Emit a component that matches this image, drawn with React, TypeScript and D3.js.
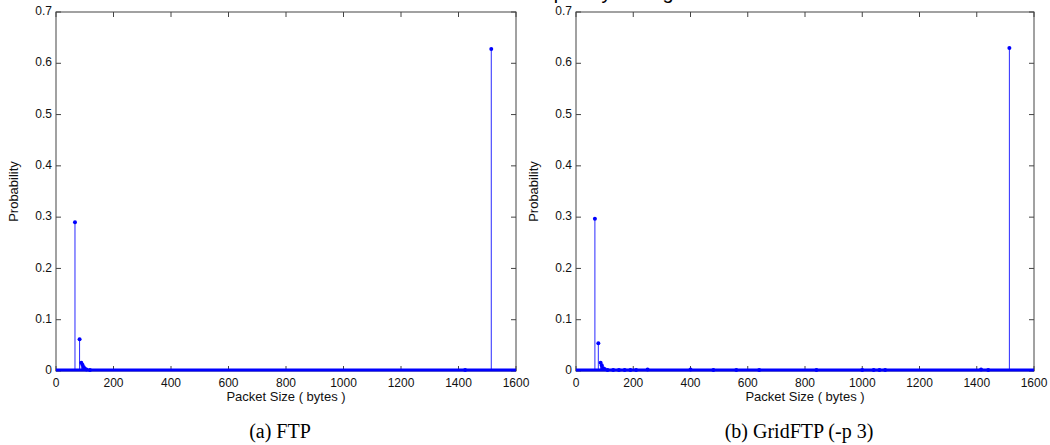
import React from "react";
import * as d3 from "d3";

// packet sizes (bytes) with non-zero probability
const ftpSizes = [66, 82, 88, 92, 96, 100, 106, 118, 1423, 1514];
const ftpProbs = [0.29, 0.062, 0.016, 0.012, 0.008, 0.005, 0.003, 0.002, 0.002, 0.628];

const gridSizes = [66, 78, 86, 90, 94, 100, 110, 130, 150, 170, 190, 210, 250, 400, 480, 560, 640, 840, 1000, 1040, 1060, 1080, 1415, 1440, 1514];
const gridProbs = [0.297, 0.054, 0.016, 0.011, 0.006, 0.004, 0.002, 0.002, 0.002, 0.002, 0.002, 0.002, 0.003, 0.003, 0.002, 0.002, 0.002, 0.002, 0.002, 0.002, 0.002, 0.002, 0.003, 0.002, 0.63];

const xTickVals = [0, 200, 400, 600, 800, 1000, 1200, 1400, 1600];
const yTickVals = [0, 0.1, 0.2, 0.3, 0.4, 0.5, 0.6, 0.7];

const titleText = "Packet Size Frequency Histogram";
const captions = ["(a) FTP", "(b) GridFTP (-p 3)"];

const axisColor = "#444";
const stemColor = "#2a2aff";

function Panel({ left, right, sizes, probs, caption }) {
  const top = 12, bottom = 371;
  const x = d3.scaleLinear().domain([0, 1600]).range([left, right]);
  const y = d3.scaleLinear().domain([0, 0.7]).range([bottom, top]);
  const mid = (left + right) / 2;
  return (
    <g>
      {/* box */}
      <rect x={left} y={top} width={right - left} height={bottom - top} fill="white" stroke={axisColor} strokeWidth={1} />
      {/* x ticks */}
      {xTickVals.map((t) => (
        <g key={"x" + t}>
          <line x1={x(t)} x2={x(t)} y1={bottom} y2={bottom - 5} stroke={axisColor} />
          <line x1={x(t)} x2={x(t)} y1={top} y2={top + 5} stroke={axisColor} />
          <text x={x(t)} y={bottom + 16} fontSize={12} textAnchor="middle" fill="#111">{t}</text>
        </g>
      ))}
      {/* y ticks */}
      {yTickVals.map((t) => (
        <g key={"y" + t}>
          <line x1={left} x2={left + 5} y1={y(t)} y2={y(t)} stroke={axisColor} />
          <line x1={right} x2={right - 5} y1={y(t)} y2={y(t)} stroke={axisColor} />
          <text x={left - 4} y={y(t)} fontSize={12} textAnchor="end" dominantBaseline="middle" fill="#111">{d3.format("~g")(+t.toFixed(1))}</text>
        </g>
      ))}
      {/* stems */}
      {sizes.map((s, i) => (
        <g key={"s" + i}>
          <line x1={x(s)} x2={x(s)} y1={y(0)} y2={y(probs[i])} stroke={stemColor} strokeWidth={1} />
          <circle cx={x(s)} cy={y(probs[i])} r={2} fill="#0000ff" />
        </g>
      ))}
      {/* zero baseline of the stem plot */}
      <line x1={x(0)} x2={x(1600)} y1={y(0) - 1} y2={y(0) - 1} stroke="#0000ff" strokeWidth={3} />
      <text x={mid} y={401} fontSize={13} textAnchor="middle" fill="#111">Packet Size ( bytes )</text>
      <text transform={`translate(${left - 38},${(top + bottom) / 2}) rotate(-90)`} fontSize={13} textAnchor="middle" fill="#111">Probability</text>
      <text x={mid - 6} y={438} fontSize={20} textAnchor="middle" fontFamily="'Liberation Serif', 'Times New Roman', serif" fill="#000">{caption}</text>
    </g>
  );
}

export default function App() {
  const width = 1050, height = 445;
  return (
    <svg width={width} height={height} style={{ position: "absolute", left: 0, top: 0, background: "white" }} fontFamily="'Liberation Sans', Arial, sans-serif">
      <rect x={0} y={0} width={width} height={height} fill="white" />
      <text x={557} y={-1} fontSize={20} textAnchor="middle" fill="#000">{titleText}</text>
      <Panel left={56} right={516} sizes={ftpSizes} probs={ftpProbs} caption={captions[0]} />
      <Panel left={576} right={1034} sizes={gridSizes} probs={gridProbs} caption={captions[1]} />
    </svg>
  );
}
